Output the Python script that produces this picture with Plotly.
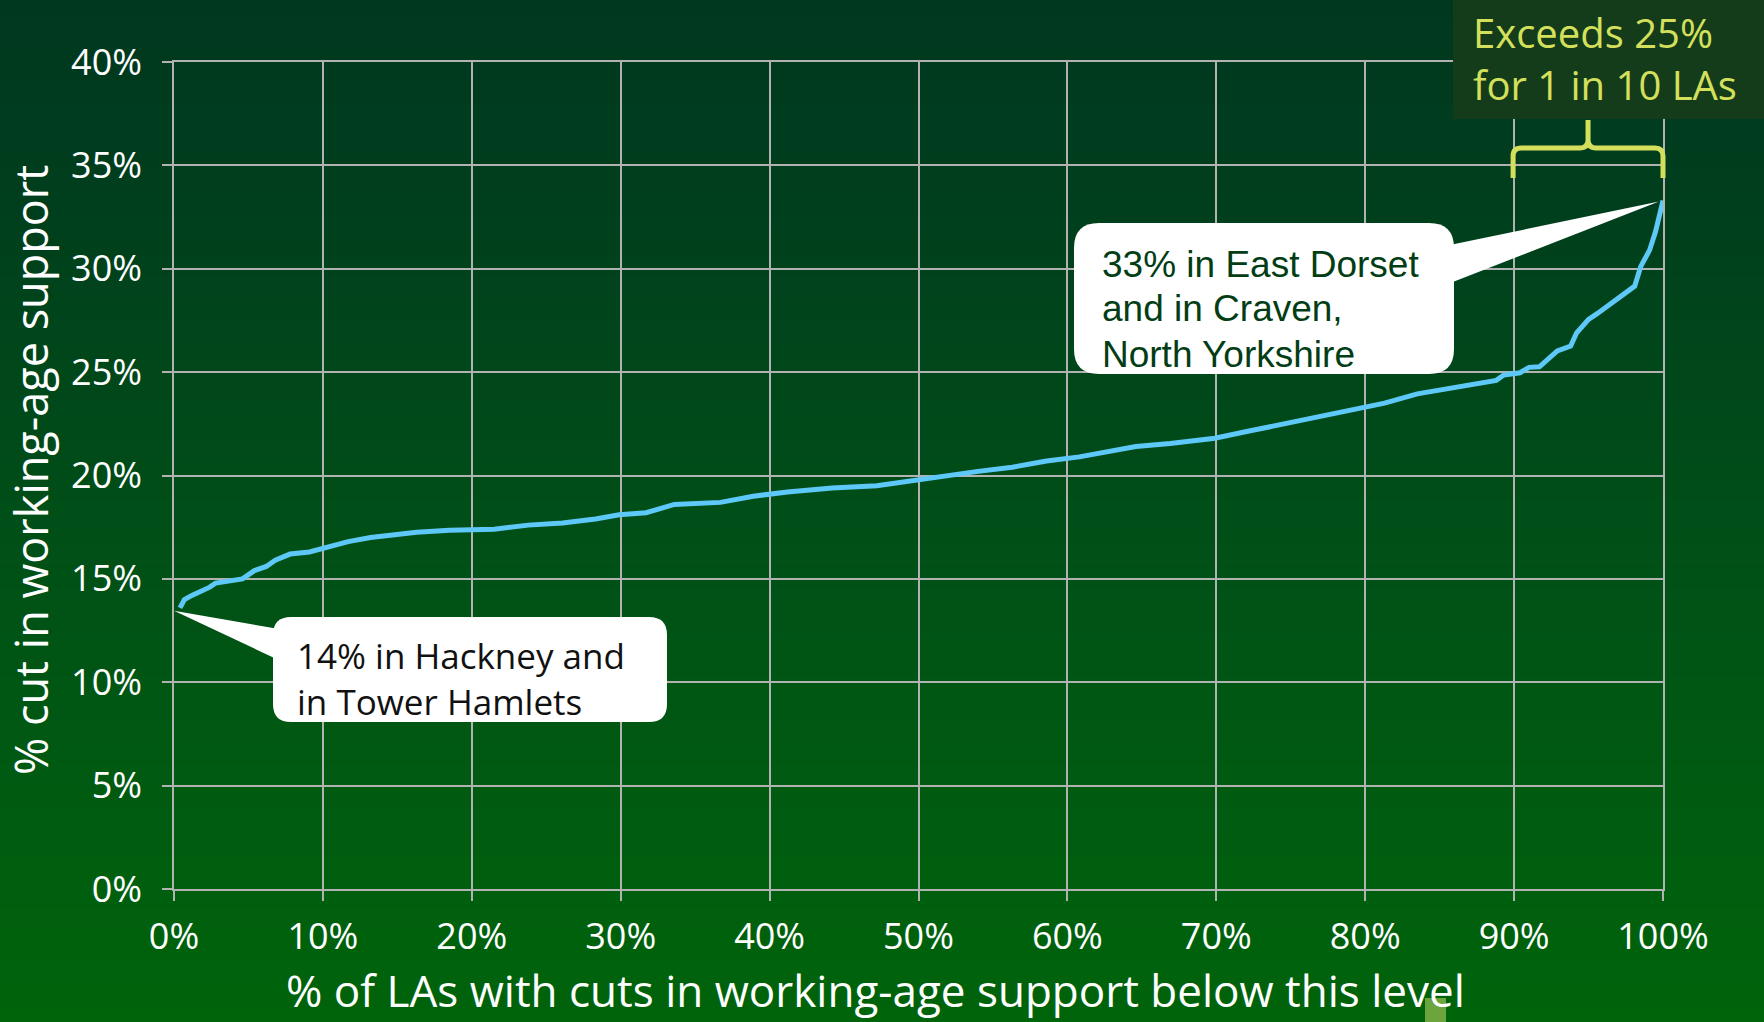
import base64
import struct
import zlib

import plotly.graph_objects as go

# Distribution of cuts in working-age support across local authorities
pct_las = [0.4, 0.7, 1.2, 1.8, 2.4, 2.8, 3.8, 4.6, 5.4, 6.2, 6.8, 7.8, 9.1, 10.6,
           11.7, 13.2, 14.4, 16.3, 18.5, 21.5, 23.8, 26.1, 28.3, 29.9, 31.7, 33.6,
           36.7, 38.9, 41.2, 44.2, 47.2, 49.5, 51.8, 54.0, 56.3, 58.6, 60.8, 63.1,
           64.6, 66.9, 69.9, 72.2, 74.5, 76.7, 79.0, 81.3, 83.5, 86.6, 88.8, 89.3,
           90.4, 91.0, 91.7, 92.9, 93.8, 94.2, 95.0, 95.6, 96.7, 97.5, 98.1, 98.5,
           99.1, 99.5, 100.0]
cut_pct = [13.6, 14.0, 14.2, 14.4, 14.6, 14.8, 14.9, 15.0, 15.4, 15.6, 15.9, 16.2,
           16.3, 16.6, 16.8, 17.0, 17.1, 17.25, 17.35, 17.4, 17.6, 17.7, 17.9, 18.1,
           18.2, 18.6, 18.7, 19.0, 19.2, 19.4, 19.5, 19.75, 20.0, 20.2, 20.4, 20.7,
           20.9, 21.2, 21.4, 21.55, 21.8, 22.15, 22.5, 22.8, 23.2, 23.5, 23.95, 24.3,
           24.6, 24.86, 24.97, 25.23, 25.26, 26.03, 26.26, 26.9, 27.55, 27.84, 28.45,
           28.84, 29.16, 30.1, 30.9, 31.8, 33.3]

x_ticks = list(range(0, 101, 10))
y_ticks = list(range(0, 41, 5))

low_label = "14% in Hackney and<br>in Tower Hamlets"
high_label_lines = ["33% in East Dorset", "and in Craven,", "North Yorkshire"]
bracket_label = "Exceeds 25%<br>for 1 in 10 LAs"
x_title = "% of LAs with cuts in working-age support below this level"
y_title = "% cut in working-age support"

# Canvas and plot-area geometry (pixels)
W, H = 1764, 1022
L, T, R, B = 174, 62, 101, 133
PW, PH = W - L - R, H - T - B
X_MAX, Y_MAX = 100, 40

LINE_BLUE = "#5ec8f8"
GRID = "#b2b2b2"
LIME = "#d4e05c"


def px(xp):
    """Pixel x -> paper x."""
    return (xp - L) / PW


def py(yp):
    """Pixel y (from top) -> paper y."""
    return (T + PH - yp) / PH


def dpx(xv):
    """Data x -> pixel x."""
    return L + xv / X_MAX * PW


def dpy(yv):
    """Data y -> pixel y."""
    return T + PH - yv / Y_MAX * PH


def pt(xp, yp):
    return f"{px(xp):.5f},{py(yp):.5f}"


def rounded_rect(x0, y0, x1, y1, r):
    return (f"M {pt(x0 + r, y0)} L {pt(x1 - r, y0)} Q {pt(x1, y0)} {pt(x1, y0 + r)} "
            f"L {pt(x1, y1 - r)} Q {pt(x1, y1)} {pt(x1 - r, y1)} "
            f"L {pt(x0 + r, y1)} Q {pt(x0, y1)} {pt(x0, y1 - r)} "
            f"L {pt(x0, y0 + r)} Q {pt(x0, y0)} {pt(x0 + r, y0)} Z")


def gradient_png(stops, n=256):
    """Build a 1-pixel-wide vertical gradient PNG as a data URI."""
    rows = b""
    for i in range(n):
        t = i / (n - 1)
        for (t0, c0), (t1, c1) in zip(stops[:-1], stops[1:]):
            if t0 <= t <= t1:
                f = (t - t0) / (t1 - t0) if t1 > t0 else 0
                rgb = [round(a + (b - a) * f) for a, b in zip(c0, c1)]
                break
        rows += b"\x00" + bytes(rgb)

    def chunk(tag, data):
        c = struct.pack(">I", len(data)) + tag + data
        return c + struct.pack(">I", zlib.crc32(tag + data) & 0xFFFFFFFF)

    png = b"\x89PNG\r\n\x1a\n"
    png += chunk(b"IHDR", struct.pack(">IIBBBBB", 1, n, 8, 2, 0, 0, 0))
    png += chunk(b"IDAT", zlib.compress(rows, 9))
    png += chunk(b"IEND", b"")
    return "data:image/png;base64," + base64.b64encode(png).decode()


bg_uri = gradient_png([
    (0.0, (0, 56, 31)),
    (0.2, (0, 63, 29)),
    (0.5, (0, 78, 24)),
    (0.8, (0, 92, 16)),
    (1.0, (0, 100, 11)),
])

fig = go.Figure()
fig.add_trace(go.Scatter(
    x=pct_las, y=cut_pct, mode="lines",
    line=dict(color=LINE_BLUE, width=5),
    hoverinfo="skip", showlegend=False,
))

shapes = []

# Callout for the highest cut, pointing at the top of the curve
tip_hi = (dpx(pct_las[-1]) - 4, dpy(cut_pct[-1]) + 1)
shapes.append(dict(type="path", xref="paper", yref="paper", layer="above",
                   path=f"M {pt(1440, 247)} L {pt(*tip_hi)} L {pt(1440, 287)} Z",
                   fillcolor="white", line=dict(width=0)))
shapes.append(dict(type="path", xref="paper", yref="paper", layer="above",
                   path=rounded_rect(1074, 223, 1454, 374, 25),
                   fillcolor="white", line=dict(width=0)))

# Callout for the lowest cut, pointing at the start of the curve
tip_lo = (dpx(0), dpy(cut_pct[0]) + 3)
shapes.append(dict(type="path", xref="paper", yref="paper", layer="above",
                   path=f"M {pt(285, 630)} L {pt(*tip_lo)} L {pt(285, 663)} Z",
                   fillcolor="white", line=dict(width=0)))
shapes.append(dict(type="path", xref="paper", yref="paper", layer="above",
                   path=rounded_rect(273, 617, 667, 722, 18),
                   fillcolor="white", line=dict(width=0)))

# Label box in the top-right corner
shapes.append(dict(type="rect", xref="paper", yref="paper", layer="above",
                   x0=px(1453), x1=px(W + 5), y0=py(119), y1=py(-5),
                   fillcolor="#143c1a", line=dict(width=0)))

# Curly brace spanning the top decile
x_a, x_b = dpx(90) - 1, dpx(100)
x_m = (x_a + x_b) / 2
brace = (f"M {pt(x_a, 178)} L {pt(x_a, 156)} Q {pt(x_a, 148)} {pt(x_a + 8, 148)} "
         f"L {pt(x_m - 8, 148)} Q {pt(x_m, 148)} {pt(x_m, 140)} L {pt(x_m, 120)} "
         f"M {pt(x_m, 140)} Q {pt(x_m, 148)} {pt(x_m + 8, 148)} "
         f"L {pt(x_b - 8, 148)} Q {pt(x_b, 148)} {pt(x_b, 156)} L {pt(x_b, 178)}")
shapes.append(dict(type="path", xref="paper", yref="paper", layer="above",
                   path=brace, line=dict(color=LIME, width=5)))

# Small light-green tab at the bottom edge
shapes.append(dict(type="rect", xref="paper", yref="paper", layer="below",
                   x0=px(1425), x1=px(1446), y0=py(H + 5), y1=py(998),
                   fillcolor="#6ca53e", line=dict(width=0)))

annotations = []
annotations.append(dict(xref="paper", yref="paper", x=px(295), y=py(678),
                        xanchor="left", yanchor="middle", showarrow=False, align="left",
                        text=low_label,
                        font=dict(family="Open Sans", size=35, color="#111111")))
for i, line in enumerate(high_label_lines):
    annotations.append(dict(xref="paper", yref="paper", x=px(1100), y=py(264 + 45 * i),
                            xanchor="left", yanchor="middle", showarrow=False,
                            text=line,
                            font=dict(family="Liberation Sans, Arial", size=37,
                                      color="#033d15")))
annotations.append(dict(xref="paper", yref="paper", x=px(1471), y=py(59),
                        xanchor="left", yanchor="middle", showarrow=False, align="left",
                        text=bracket_label,
                        font=dict(family="Open Sans", size=40, color=LIME)))
annotations.append(dict(xref="paper", yref="paper", x=px(875), y=py(990),
                        xanchor="center", yanchor="middle", showarrow=False,
                        text=x_title,
                        font=dict(family="Open Sans", size=44, color="white")))
annotations.append(dict(xref="paper", yref="paper", x=px(31), y=py(470),
                        xanchor="center", yanchor="middle", showarrow=False,
                        textangle=-90, text=y_title,
                        font=dict(family="Open Sans", size=45, color="white")))

fig.update_layout(
    width=W, height=H,
    margin=dict(l=L, r=R, t=T, b=B, pad=0),
    paper_bgcolor="#004a1c",
    plot_bgcolor="rgba(0,0,0,0)",
    images=[dict(source=bg_uri, xref="paper", yref="paper",
                 x=px(0), y=py(0), sizex=W / PW, sizey=H / PH,
                 xanchor="left", yanchor="top", sizing="stretch", layer="below")],
    shapes=shapes,
    annotations=annotations,
    showlegend=False,
)

fig.update_xaxes(
    range=[0, X_MAX], tickvals=x_ticks, ticktext=[f"{v}%" for v in x_ticks],
    showgrid=True, gridcolor=GRID, gridwidth=1.5, zeroline=False,
    showline=True, mirror=True, linecolor=GRID, linewidth=1.5,
    ticks="outside", ticklen=10, tickwidth=1.5, tickcolor=GRID,
    ticklabelstandoff=5,
    tickfont=dict(family="Open Sans", size=36, color="white"),
)
fig.update_yaxes(
    range=[0, Y_MAX], tickvals=y_ticks, ticktext=[f"{v}%" for v in y_ticks],
    showgrid=True, gridcolor=GRID, gridwidth=1.5, zeroline=False,
    showline=True, mirror=True, linecolor=GRID, linewidth=1.5,
    ticks="outside", ticklen=10, tickwidth=1.5, tickcolor=GRID,
    ticklabelstandoff=13,
    tickfont=dict(family="Open Sans", size=36, color="white"),
)

fig.write_html("out.html")
